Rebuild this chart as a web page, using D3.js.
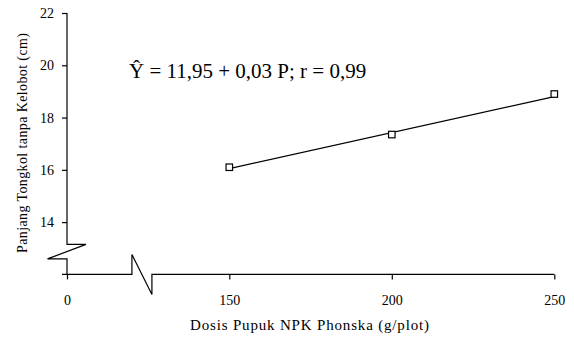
<!DOCTYPE html>
<html>
<head>
<meta charset="utf-8">
<script src="https://cdn.jsdelivr.net/npm/d3@7"></script>
<style>
  body { margin: 0; background: #fff; }
  svg { display: block; }
  svg text { font-family: "Liberation Serif", "Times New Roman", serif; }
</style>
</head>
<body>
<svg id="chart" width="574" height="339"></svg>
<script>
// data
const dosis = [150, 200, 250];
const panjang = [16.1, 17.35, 18.9];
const trendX = [150, 250];
const trendY = [16.05, 18.8];
const xTicks = [0, 150, 200, 250];
const yTicks = [14, 16, 18, 20, 22];
const persamaan = 'Ŷ = 11,95 + 0,03 P; r = 0,99';

const svg = d3.select('#chart');

// x has a break between 0 and 150 -> piecewise scale
const x = d3.scaleLinear().domain([0, 150, 250]).range([67, 229.3, 554.3]);
const y = d3.scaleLinear().domain([12, 22]).range([274.4, 13]);

const axisColor = '#000';

// y axis ticks + labels (domain path drawn by hand because of the break)
const gy = svg.append('g').attr('transform', `translate(${x(0)},0)`)
  .call(d3.axisLeft(y).tickValues(yTicks).tickSize(5).tickPadding(8));
gy.attr('font-family', null).attr('font-size', null);
gy.select('.domain').remove();
gy.selectAll('line').attr('stroke', axisColor).attr('stroke-width', 1.2);
gy.selectAll('text').style('font-size', '14px').attr('fill', '#000');

// x axis ticks + labels
const gx = svg.append('g').attr('transform', `translate(0,${y(12)})`)
  .call(d3.axisBottom(x).tickValues(xTicks).tickSize(5).tickPadding(16));
gx.attr('font-family', null).attr('font-size', null);
gx.select('.domain').remove();
gx.selectAll('line').attr('stroke', axisColor).attr('stroke-width', 1.2);
gx.selectAll('text').style('font-size', '14px').attr('fill', '#000');

// axis lines with break marks
const x0 = x(0), yb = y(12);
const yAxisPath = [
  [x0, y(22)], [x0, yb - 30], [x0 + 19, yb - 30],
  [x0 - 19.5, yb - 15.5], [x0, yb - 15.5], [x0, yb]
];
svg.append('path')
  .attr('d', d3.line()(yAxisPath))
  .attr('fill', 'none').attr('stroke', axisColor).attr('stroke-width', 1.2);

const bx = x(60);
const xAxisPath = [
  [x0 - 5, yb], [bx, yb], [bx, yb - 20], [bx + 20, yb + 20],
  [bx + 20, yb], [x(250), yb]
];
svg.append('path')
  .attr('d', d3.line()(xAxisPath))
  .attr('fill', 'none').attr('stroke', axisColor).attr('stroke-width', 1.2);

// trend line
svg.append('path')
  .attr('d', d3.line().x(d => x(d)).y((d, i) => y(trendY[i]))(trendX))
  .attr('fill', 'none').attr('stroke', '#000').attr('stroke-width', 1.3);

// markers
const s = 6.5;
svg.append('g').selectAll('rect')
  .data(dosis.map((d, i) => ({ x: d, y: panjang[i] })))
  .join('rect')
  .attr('x', d => x(d.x) - s / 2)
  .attr('y', d => y(d.y) - s / 2)
  .attr('width', s).attr('height', s)
  .attr('fill', '#fff').attr('stroke', '#000').attr('stroke-width', 1.2);

// equation
svg.append('text')
  .attr('x', 129).attr('y', 78)
  .style('font-size', '21px').attr('fill', '#000')
  .text(persamaan);

// axis titles
svg.append('text')
  .attr('x', 309.5).attr('y', 330)
  .attr('text-anchor', 'middle')
  .style('font-size', '15px').attr('fill', '#000')
  .attr('textLength', 239).attr('lengthAdjust', 'spacing')
  .text('Dosis Pupuk NPK Phonska (g/plot)');

svg.append('text')
  .attr('transform', 'translate(27,143) rotate(-90)')
  .attr('text-anchor', 'middle')
  .style('font-size', '14px').attr('fill', '#000')
  .attr('textLength', 220).attr('lengthAdjust', 'spacing')
  .text('Panjang Tongkol tanpa Kelobot (cm)');
</script>
</body>
</html>
